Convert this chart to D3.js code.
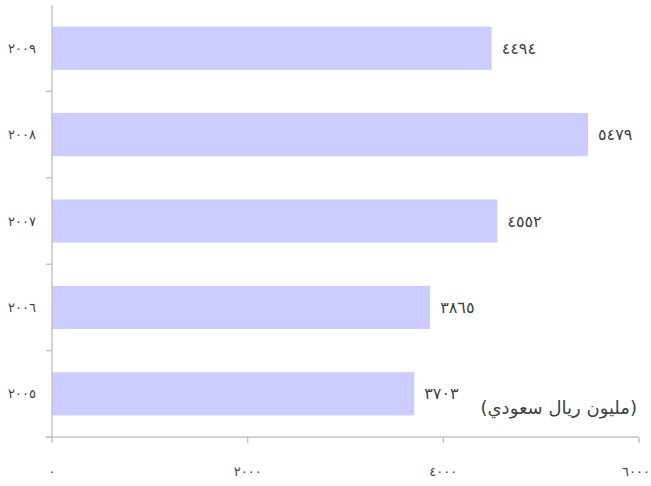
<!DOCTYPE html>
<html>
<head>
<meta charset="utf-8">
<script src="https://cdn.jsdelivr.net/npm/d3@7"></script>
<style>
  body { margin: 0; background: #fff; }
  text { font-family: "DejaVu Sans", sans-serif; fill: #404040; }
</style>
</head>
<body>
<svg id="chart" width="651" height="486"></svg>
<script>
// years from top to bottom, as in the picture
const years = ["٢٠٠٩", "٢٠٠٨", "٢٠٠٧", "٢٠٠٦", "٢٠٠٥"];
const values = [4494, 5479, 4552, 3865, 3703];
const valueLabels = ["٤٤٩٤", "٥٤٧٩", "٤٥٥٢", "٣٨٦٥", "٣٧٠٣"];
const xTicks = [0, 2000, 4000, 6000];
const xTickLabels = ["٠", "٢٠٠٠", "٤٠٠٠", "٦٠٠٠"];
const unitLabel = "(مليون ريال سعودي)";

const svg = d3.select("#chart");
const plotLeft = 52, plotRight = 639, plotTop = 5, plotBottom = 437;
const axisColor = "#c4c4c4";

const x = d3.scaleLinear().domain([0, 6000]).range([plotLeft, plotRight]);
const y = d3.scaleBand().domain(years).range([plotTop, plotBottom]).paddingInner(0.5).paddingOuter(0.25);

// bars
svg.selectAll("rect.bar")
    .data(values)
    .enter()
    .append("rect")
    .attr("class", "bar")
    .attr("x", x(0))
    .attr("y", (d, i) => y(years[i]))
    .attr("width", d => x(d) - x(0))
    .attr("height", y.bandwidth())
    .attr("fill", "#ccccff");

// value labels
svg.selectAll("text.val")
    .data(values)
    .enter()
    .append("text")
    .attr("class", "val")
    .attr("x", d => x(d) + 10)
    .attr("y", (d, i) => y(years[i]) + y.bandwidth() / 2)
    .attr("dy", "0.35em")
    .attr("font-size", 16)
    .attr("letter-spacing", 2)
    .text((d, i) => valueLabels[i]);

// y axis line and category boundary ticks
const step = y.step();
svg.append("line")
    .attr("x1", plotLeft).attr("x2", plotLeft)
    .attr("y1", plotTop).attr("y2", plotBottom)
    .attr("stroke", axisColor).attr("stroke-width", 1.5);

const bounds = d3.range(years.length).map(i => plotTop + (i + 1) * step);
svg.selectAll("line.ytick")
    .data(bounds)
    .enter()
    .append("line")
    .attr("class", "ytick")
    .attr("x1", plotLeft - 6).attr("x2", plotLeft)
    .attr("y1", d => d).attr("y2", d => d)
    .attr("stroke", axisColor).attr("stroke-width", 1.5);

svg.selectAll("text.year")
    .data(years)
    .enter()
    .append("text")
    .attr("class", "year")
    .attr("x", 36)
    .attr("y", d => y(d) + y.bandwidth() / 2)
    .attr("dy", "0.35em")
    .attr("text-anchor", "end")
    .attr("font-size", 13)
    .text(d => d);

// x axis
svg.append("line")
    .attr("x1", plotLeft - 6).attr("x2", plotRight)
    .attr("y1", plotBottom).attr("y2", plotBottom)
    .attr("stroke", axisColor).attr("stroke-width", 1.5);

svg.selectAll("line.xtick")
    .data(xTicks)
    .enter()
    .append("line")
    .attr("class", "xtick")
    .attr("x1", d => x(d)).attr("x2", d => x(d))
    .attr("y1", plotBottom).attr("y2", plotBottom + 6)
    .attr("stroke", axisColor).attr("stroke-width", 1.5);

svg.selectAll("text.xlab")
    .data(xTicks)
    .enter()
    .append("text")
    .attr("class", "xlab")
    .attr("x", (d, i) => i === xTicks.length - 1 ? 650 : x(d))
    .attr("y", 476)
    .attr("text-anchor", (d, i) => i === xTicks.length - 1 ? "end" : "middle")
    .attr("font-size", 13)
    .text((d, i) => xTickLabels[i]);

// unit label
svg.append("text")
    .attr("x", 637)
    .attr("y", 414)
    .attr("text-anchor", "end")
    .attr("font-size", 18)
    .text(unitLabel);
</script>
</body>
</html>
